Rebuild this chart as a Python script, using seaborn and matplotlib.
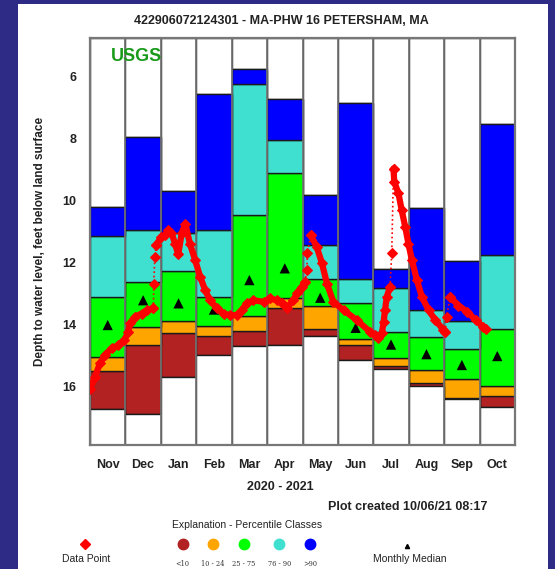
import matplotlib
matplotlib.use("Agg")
import matplotlib.pyplot as plt
import seaborn as sns
import pandas as pd
import numpy as np
from matplotlib.patches import Rectangle

months = ['Nov', 'Dec', 'Jan', 'Feb', 'Mar', 'Apr', 'May', 'Jun', 'Jul', 'Aug', 'Sep', 'Oct']

# percentile class boundaries, feet below land surface
p_max = [10.22, 7.96, 9.72, 6.59, 5.78, 6.74, 9.84, 6.86, 12.23, 10.24, 11.97, 7.55]
p90 = [11.15, 10.95, 11.05, 10.95, 6.27, 8.06, 11.45, 12.55, 12.82, 13.53, 13.89, 11.77]
p75 = [13.12, 12.65, 12.28, 13.12, 10.47, 9.14, 12.53, 13.33, 14.25, 14.41, 14.79, 14.16]
p25 = [15.05, 14.10, 13.90, 14.06, 13.73, 13.15, 13.42, 14.49, 15.08, 15.48, 15.78, 16.00]
p10 = [15.50, 14.69, 14.28, 14.39, 14.23, 13.47, 14.16, 14.68, 15.35, 15.89, 16.37, 16.32]
p_min = [16.75, 16.90, 15.70, 14.99, 14.70, 14.68, 14.39, 15.16, 15.45, 15.99, 16.41, 16.67]
median = [14.03, 13.23, 13.33, 13.53, 12.58, 12.20, 13.15, 14.12, 14.66, 14.97, 15.32, 15.03]

# water level readings (position in months since Nov 1, depth)
seg1_t = [0.00, 0.14, 0.28, 0.42, 0.61, 0.80, 0.97, 1.08, 1.13, 1.27, 1.46, 1.60, 1.79]
seg1_d = [16.10, 15.70, 15.27, 15.00, 14.78, 14.68, 14.52, 14.25, 13.98, 13.76, 13.66, 13.55, 13.49]
gap1_t = [1.79, 1.80, 1.83, 1.87]
gap1_d = [13.49, 12.69, 11.85, 11.45]
seg2_t = [1.87, 2.00, 2.12, 2.21, 2.30, 2.40, 2.49, 2.59, 2.69, 2.82, 2.97, 3.11, 3.25, 3.39,
          3.58, 3.77, 3.95, 4.14, 4.28, 4.43, 4.61, 4.90, 5.08, 5.27, 5.42, 5.55, 5.74, 5.84,
          5.98, 6.07]
seg2_d = [11.45, 11.20, 11.13, 10.97, 11.05, 11.40, 11.75, 11.07, 10.76, 11.40, 11.94, 12.47,
          12.90, 13.23, 13.49, 13.66, 13.71, 13.71, 13.55, 13.33, 13.23, 13.28, 13.17, 13.23,
          13.33, 13.49, 13.23, 13.00, 12.80, 12.64]
gap2_t = [6.07, 6.12, 6.14, 6.23]
gap2_d = [12.64, 12.26, 11.72, 11.13]
seg3_t = [6.23, 6.40, 6.55, 6.69, 6.87, 7.16, 7.53, 7.91, 8.05, 8.14, 8.24, 8.29, 8.33, 8.38, 8.47]
seg3_d = [11.13, 11.50, 12.04, 12.69, 13.28, 13.55, 13.87, 14.25, 14.35, 14.46, 14.30, 13.93,
          13.55, 13.12, 12.80]
gap3_t = [8.47, 8.52, 8.57]
gap3_d = [12.80, 11.72, 8.98]
seg4_t = [8.57, 8.59, 8.71, 8.80, 8.90, 8.99, 9.09, 9.23, 9.37, 9.56, 9.75, 9.98, 10.03]
seg4_d = [8.98, 9.41, 9.78, 10.32, 10.86, 11.40, 11.94, 12.58, 13.12, 13.55, 13.87, 14.19, 14.25]
gap4_t = [10.03, 10.07, 10.17]
gap4_d = [14.25, 13.76, 13.12]
seg5_t = [10.17, 10.40, 10.65, 10.90, 11.11, 11.19]
seg5_d = [13.12, 13.40, 13.60, 13.88, 14.10, 14.15]

class_colors = ['#b22222', '#ffa500', '#00ff00', '#40e0d0', '#0000ff']
class_labels = ['<10', '10 - 24', '25 - 75', '76 - 90', '>90']

Y_TOP, Y_BOT = 4.77, 17.9

sns.set_style('white')
plt.rcParams['font.family'] = ['Liberation Sans', 'DejaVu Sans']

fig = plt.figure(figsize=(5.55, 5.69), dpi=100)
fig.patch.set_facecolor('#2d2b85')

# page background + legend in pixel coordinates
bg = fig.add_axes([0, 0, 1, 1])
bg.set_xlim(0, 555)
bg.set_ylim(569, 0)
bg.axis('off')
bg.add_patch(Rectangle((18, 4), 530, 570, facecolor='white', edgecolor='none'))
bg.text(281, 21, '422906072124301 - MA-PHW 16 PETERSHAM, MA', ha='center', va='center',
        fontsize=9, fontweight='bold', color='#222222')
bg.text(40, 241, 'Depth to water level, feet below land surface', rotation=90,
        ha='center', va='center', fontsize=8.5, fontweight='bold', color='#222222')
bg.text(280, 487, '2020 - 2021', ha='center', va='center', fontsize=9, fontweight='bold',
        color='#222222')
bg.text(487, 507, 'Plot created 10/06/21 08:17', ha='right', va='center', fontsize=9,
        fontweight='bold', color='#222222')
bg.text(247, 525, 'Explanation - Percentile Classes', ha='center', va='center', fontsize=7.5,
        color='#222222')
bg.plot([85], [544], marker='D', color='red', markersize=5, linestyle='none')
bg.text(86, 559, 'Data Point', ha='center', va='center', fontsize=7.5, color='#222222')
legend_x = [182.7, 212.7, 243.5, 279.3, 310]
for lx, col, lab in zip(legend_x, class_colors, class_labels):
    bg.plot([lx], [544], marker='o', color=col, markersize=7.5, linestyle='none')
    bg.text(lx, 563.5, lab, ha='center', va='center', fontsize=4.8, color='#333333',
            family=['DejaVu Serif'])
bg.plot([407], [546], marker='^', color='black', markersize=3, linestyle='none')
bg.text(410, 559, 'Monthly Median', ha='center', va='center', fontsize=7.5, color='#222222')

ax = fig.add_axes([90 / 555, 1 - 445 / 569, 425 / 555, 407 / 569])
ax.set_facecolor('white')

x = np.arange(len(months))
bounds = [p_min, p10, p25, p75, p90, p_max]
edge = dict(edgecolor='#1a1a1a', linewidth=1.0, width=1.0, align='edge')
ax.bar(x, np.array(p_max) - Y_TOP, bottom=Y_TOP, color='white', **edge)
for i, col in enumerate(class_colors):
    lower = np.array(bounds[i])
    upper = np.array(bounds[i + 1])
    ax.bar(x, lower - upper, bottom=upper, color=col, **edge)
ax.bar(x, Y_BOT - np.array(p_min), bottom=p_min, color='white', **edge)
ax.vlines(np.arange(1, 12), Y_TOP, Y_BOT, color='#777777', linewidth=1.2, zorder=3)

med_df = pd.DataFrame({'x': x + 0.5, 'depth': median})
sns.scatterplot(data=med_df, x='x', y='depth', marker='^', color='black', s=55,
                edgecolor='none', ax=ax, zorder=4)

for t, d in [(seg1_t, seg1_d), (seg2_t, seg2_d), (seg3_t, seg3_d), (seg4_t, seg4_d),
             (seg5_t, seg5_d)]:
    sns.lineplot(x=t, y=d, sort=False, color='red', linewidth=4.5, marker='D',
                 markersize=5, markeredgecolor='red', ax=ax, zorder=5)
for t, d in [(gap1_t, gap1_d), (gap2_t, gap2_d), (gap3_t, gap3_d), (gap4_t, gap4_d)]:
    sns.lineplot(x=t, y=d, sort=False, color='red', linewidth=1.2, linestyle=':',
                 marker='D', markersize=5.5, markeredgecolor='red', ax=ax, zorder=5)

ax.set_xlim(0, 12)
ax.set_ylim(Y_BOT, Y_TOP)
ax.set_xticks(x + 0.5)
ax.set_xticklabels(months)
ax.set_yticks([6, 8, 10, 12, 14, 16])
ax.tick_params(axis='both', length=0, labelsize=9, pad=10, colors='#222222')
for lab in ax.get_xticklabels() + ax.get_yticklabels():
    lab.set_fontweight('bold')
ax.set_xlabel('')
ax.set_ylabel('')
for s in ax.spines.values():
    s.set_visible(True)
    s.set_color('#777777')
    s.set_linewidth(1.6)

ax.text(0.05, 0.955, 'USGS', transform=ax.transAxes, ha='left', va='center', fontsize=13,
        fontweight='bold', color='#1a9a1a', zorder=6)

fig.savefig('out.png', dpi=100, facecolor=fig.get_facecolor())
